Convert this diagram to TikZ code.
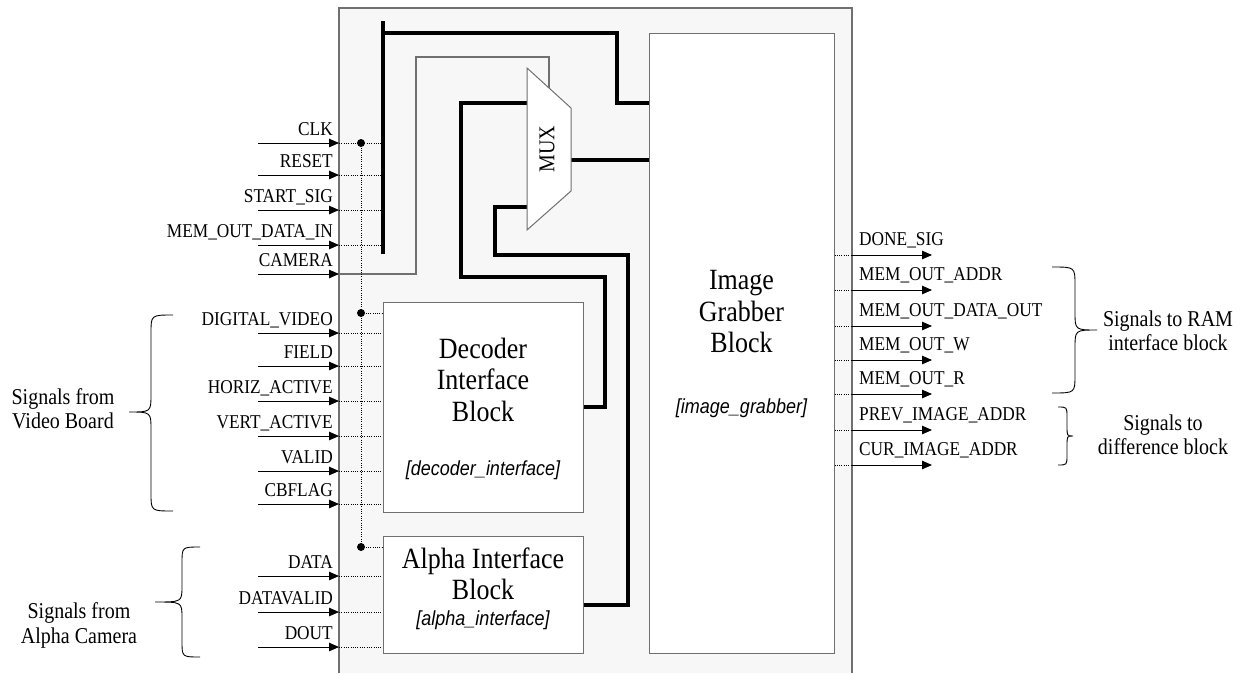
\documentclass[tikz,border=0pt]{standalone}
\usepackage{fontspec}
\usepackage{graphicx}
\setmainfont{Liberation Serif}
\newfontfamily\hv{Liberation Sans}
\usetikzlibrary{arrows.meta,calc}
\definecolor{outerfill}{HTML}{F7F7F7}
\definecolor{edgegray}{HTML}{707070}
\newcommand{\tx}[1]{\scalebox{1}[1.13]{#1}}
\newcommand{\ml}[1]{\tx{\begin{tabular}{@{}c@{}}#1\end{tabular}}}
\newcommand{\Brace}[7]{% xend, xmid, xtip, ytop, ytip, ybot, R
  \draw[bracestyle] (#1,#4) .. controls (#2,#4) .. (#2,{#4+#7}) -- (#2,{#5-#7})
    .. controls (#2,#5) .. (#3,#5) .. controls (#2,#5) .. (#2,{#5+#7})
    -- (#2,{#6-#7}) .. controls (#2,#6) .. (#1,#6);}
\begin{document}
\begin{tikzpicture}[x=1pt,y=-1pt,
  sig/.style={font=\fontsize{17.3}{18}\selectfont, inner sep=0pt},
  sigin/.style={sig, anchor=base east},
  sigout/.style={sig, anchor=base west},
  inarrow/.style={-{Triangle[length=10pt,width=8.5pt]}, line width=0.9pt},
  dots/.style={line width=0.8pt, dash pattern=on 0.9pt off 1.4pt},
  bus/.style={line width=3.8pt, line join=miter},
  blk/.style={draw=edgegray, fill=white, line width=1pt, inner sep=0pt},
  title/.style={font=\fontsize{26}{28}\selectfont, inner sep=0pt},
  tag/.style={font=\hv\itshape\fontsize{18}{20}\selectfont, inner sep=0pt},
  group/.style={font=\fontsize{20}{21.5}\selectfont, inner sep=0pt},
  bracestyle/.style={line width=0.9pt},
  junction/.style={circle, fill=black, inner sep=0pt, minimum size=8pt},
  thinwire/.style={draw=edgegray, line width=1.1pt}]
\useasboundingbox (0,0) rectangle (1248,673);
% outer box
\fill[outerfill] (339,8) rectangle (852,673);
\draw[edgegray, line width=1.3pt] (339,673) -- (339,8) -- (852,8) -- (852,673);
% blocks
\node[blk, minimum width=200pt, minimum height=210pt] (dec) at (483,407) {};
\node[blk, minimum width=200pt, minimum height=117pt] (alp) at (483,594.5) {};
\node[blk, minimum width=185pt, minimum height=620pt] (grab) at (741.5,343) {};
\node[title] (dect) at (483,383.5) {\ml{Decoder\\Interface\\Block}};
\node[tag] (decg) at (483,470) {\tx{[decoder\_interface]}};
\node[title] (alpt) at (483,577.5) {\ml{Alpha Interface\\Block}};
\node[tag] (alpg) at (483,620) {\tx{[alpha\_interface]}};
\node[title] (grabt) at (741.5,315) {\ml{Image\\Grabber\\Block}};
\node[tag] (grabg) at (741.5,408) {\tx{[image\_grabber]}};
% MUX
\coordinate (m1) at (527,68);
\coordinate (m2) at (571,108);
\coordinate (m3) at (571,191);
\coordinate (m4) at (527,230);
\coordinate (camin) at (549,88);
\coordinate (muxa) at (527,103);
\coordinate (muxb) at (527,207);
\coordinate (muxo) at (571,160);
% bus
\coordinate (bustop) at (383,21);
\coordinate (busbot) at (383,254);
\draw[bus, line cap=butt] (bustop) -- (busbot);
\draw[bus] (383,33) -- (617,33) -- (617,103) -- (grab.west |- 0,103);
% mux connections
\draw[bus] (muxo) -- (grab.west |- muxo);
\draw[bus] (muxa) -- (461,103) -- (461,277) -- (605,277) -- (605,407) -- (dec.east);
\draw[bus] (muxb) -- (495,207) -- (495,255) -- (628,255) -- (628,605) -- (alp.east |- 0,605);
\filldraw[fill=white, draw=edgegray, line width=1pt] (m1) -- (m2) -- (m3) -- (m4) -- cycle;
\node[rotate=90, font=\fontsize{20}{22}\selectfont, inner sep=0pt] (muxt) at (547,149) {\tx{MUX}};
% inputs to bus
\foreach \n/\y/\t in {clk/143/CLK, rst/175/RESET, sts/210/START\_SIG, mdi/245/MEM\_OUT\_DATA\_IN}{
  \coordinate (\n-s) at (258,\y);
  \coordinate (\n-e) at (339,\y);
  \node[sigin] (\n-l) at (333,\y-8) {\tx{\t}};
  \draw[inarrow] (\n-s) -- (\n-e);
  \draw[dots] (\n-e) -- (\n-e -| bustop);
}
% camera
\coordinate (cam-s) at (258,274);
\coordinate (cam-e) at (339,274);
\node[sigin] (cam-l) at (333,266) {\tx{CAMERA}};
\draw[inarrow] (cam-s) -- (cam-e);
\draw[thinwire] (cam-e) -- (416,274) -- (416,57) -- (549,57) -- (camin);
% decoder inputs
\foreach \n/\y/\t in {dv/333/DIGITAL\_VIDEO, fld/366/FIELD, ha/401/HORIZ\_ACTIVE, va/436/VERT\_ACTIVE, vld/471/VALID, cbf/504/CBFLAG}{
  \coordinate (\n-s) at (258,\y);
  \coordinate (\n-e) at (339,\y);
  \node[sigin] (\n-l) at (333,\y-8) {\tx{\t}};
  \draw[inarrow] (\n-s) -- (\n-e);
  \draw[dots] (\n-e) -- (\n-e -| dec.west);
}
% alpha inputs
\foreach \n/\y/\t in {dat/576/DATA, dtv/612/DATAVALID, dout/647/DOUT}{
  \coordinate (\n-s) at (258,\y);
  \coordinate (\n-e) at (339,\y);
  \node[sigin] (\n-l) at (333,\y-8) {\tx{\t}};
  \draw[inarrow] (\n-s) -- (\n-e);
  \draw[dots] (\n-e) -- (\n-e -| alp.west);
}
% clock distribution
\node[junction] (j1) at (361,143) {};
\node[junction] (j2) at (361,313) {};
\node[junction] (j3) at (361,547) {};
\draw[dots] (j1.center) -- (j3.center);
\draw[dots] (j2.center) -- (j2.center -| dec.west);
\draw[dots] (j3.center) -- (j3.center -| alp.west);
% outputs
\foreach \n/\y/\t in {dn/255/DONE\_SIG, ma/290/MEM\_OUT\_ADDR, mdo/326/MEM\_OUT\_DATA\_OUT, mw/360/MEM\_OUT\_W, mr/394/MEM\_OUT\_R, pia/430/PREV\_IMAGE\_ADDR, cia/465/CUR\_IMAGE\_ADDR}{
  \coordinate (\n-o) at (852,\y);
  \coordinate (\n-t) at (932,\y);
  \node[sigout] (\n-l) at (859,\y-10) {\tx{\t}};
  \draw[dots] (\n-o -| grab.east) -- (\n-o);
  \draw[inarrow] (\n-o) -- (\n-t);
}
% braces and group labels
\Brace{173}{151}{129}{315}{412}{511}{18}
\node[group] (gvid) at (63,411.5) {\ml{Signals from\\Video Board}};
\Brace{200}{182}{155}{547}{602}{657}{16}
\node[group] (galp) at (79,626) {\ml{Signals from\\Alpha Camera}};
\Brace{1052}{1075}{1097}{267}{330}{393}{18}
\node[group] (gram) at (1168,333.5) {\ml{Signals to RAM\\interface block}};
\Brace{1058}{1067}{1073}{407}{436}{465}{10}
\node[group] (gdif) at (1163,437.5) {\ml{Signals to\\difference block}};
\end{tikzpicture}
\end{document}
